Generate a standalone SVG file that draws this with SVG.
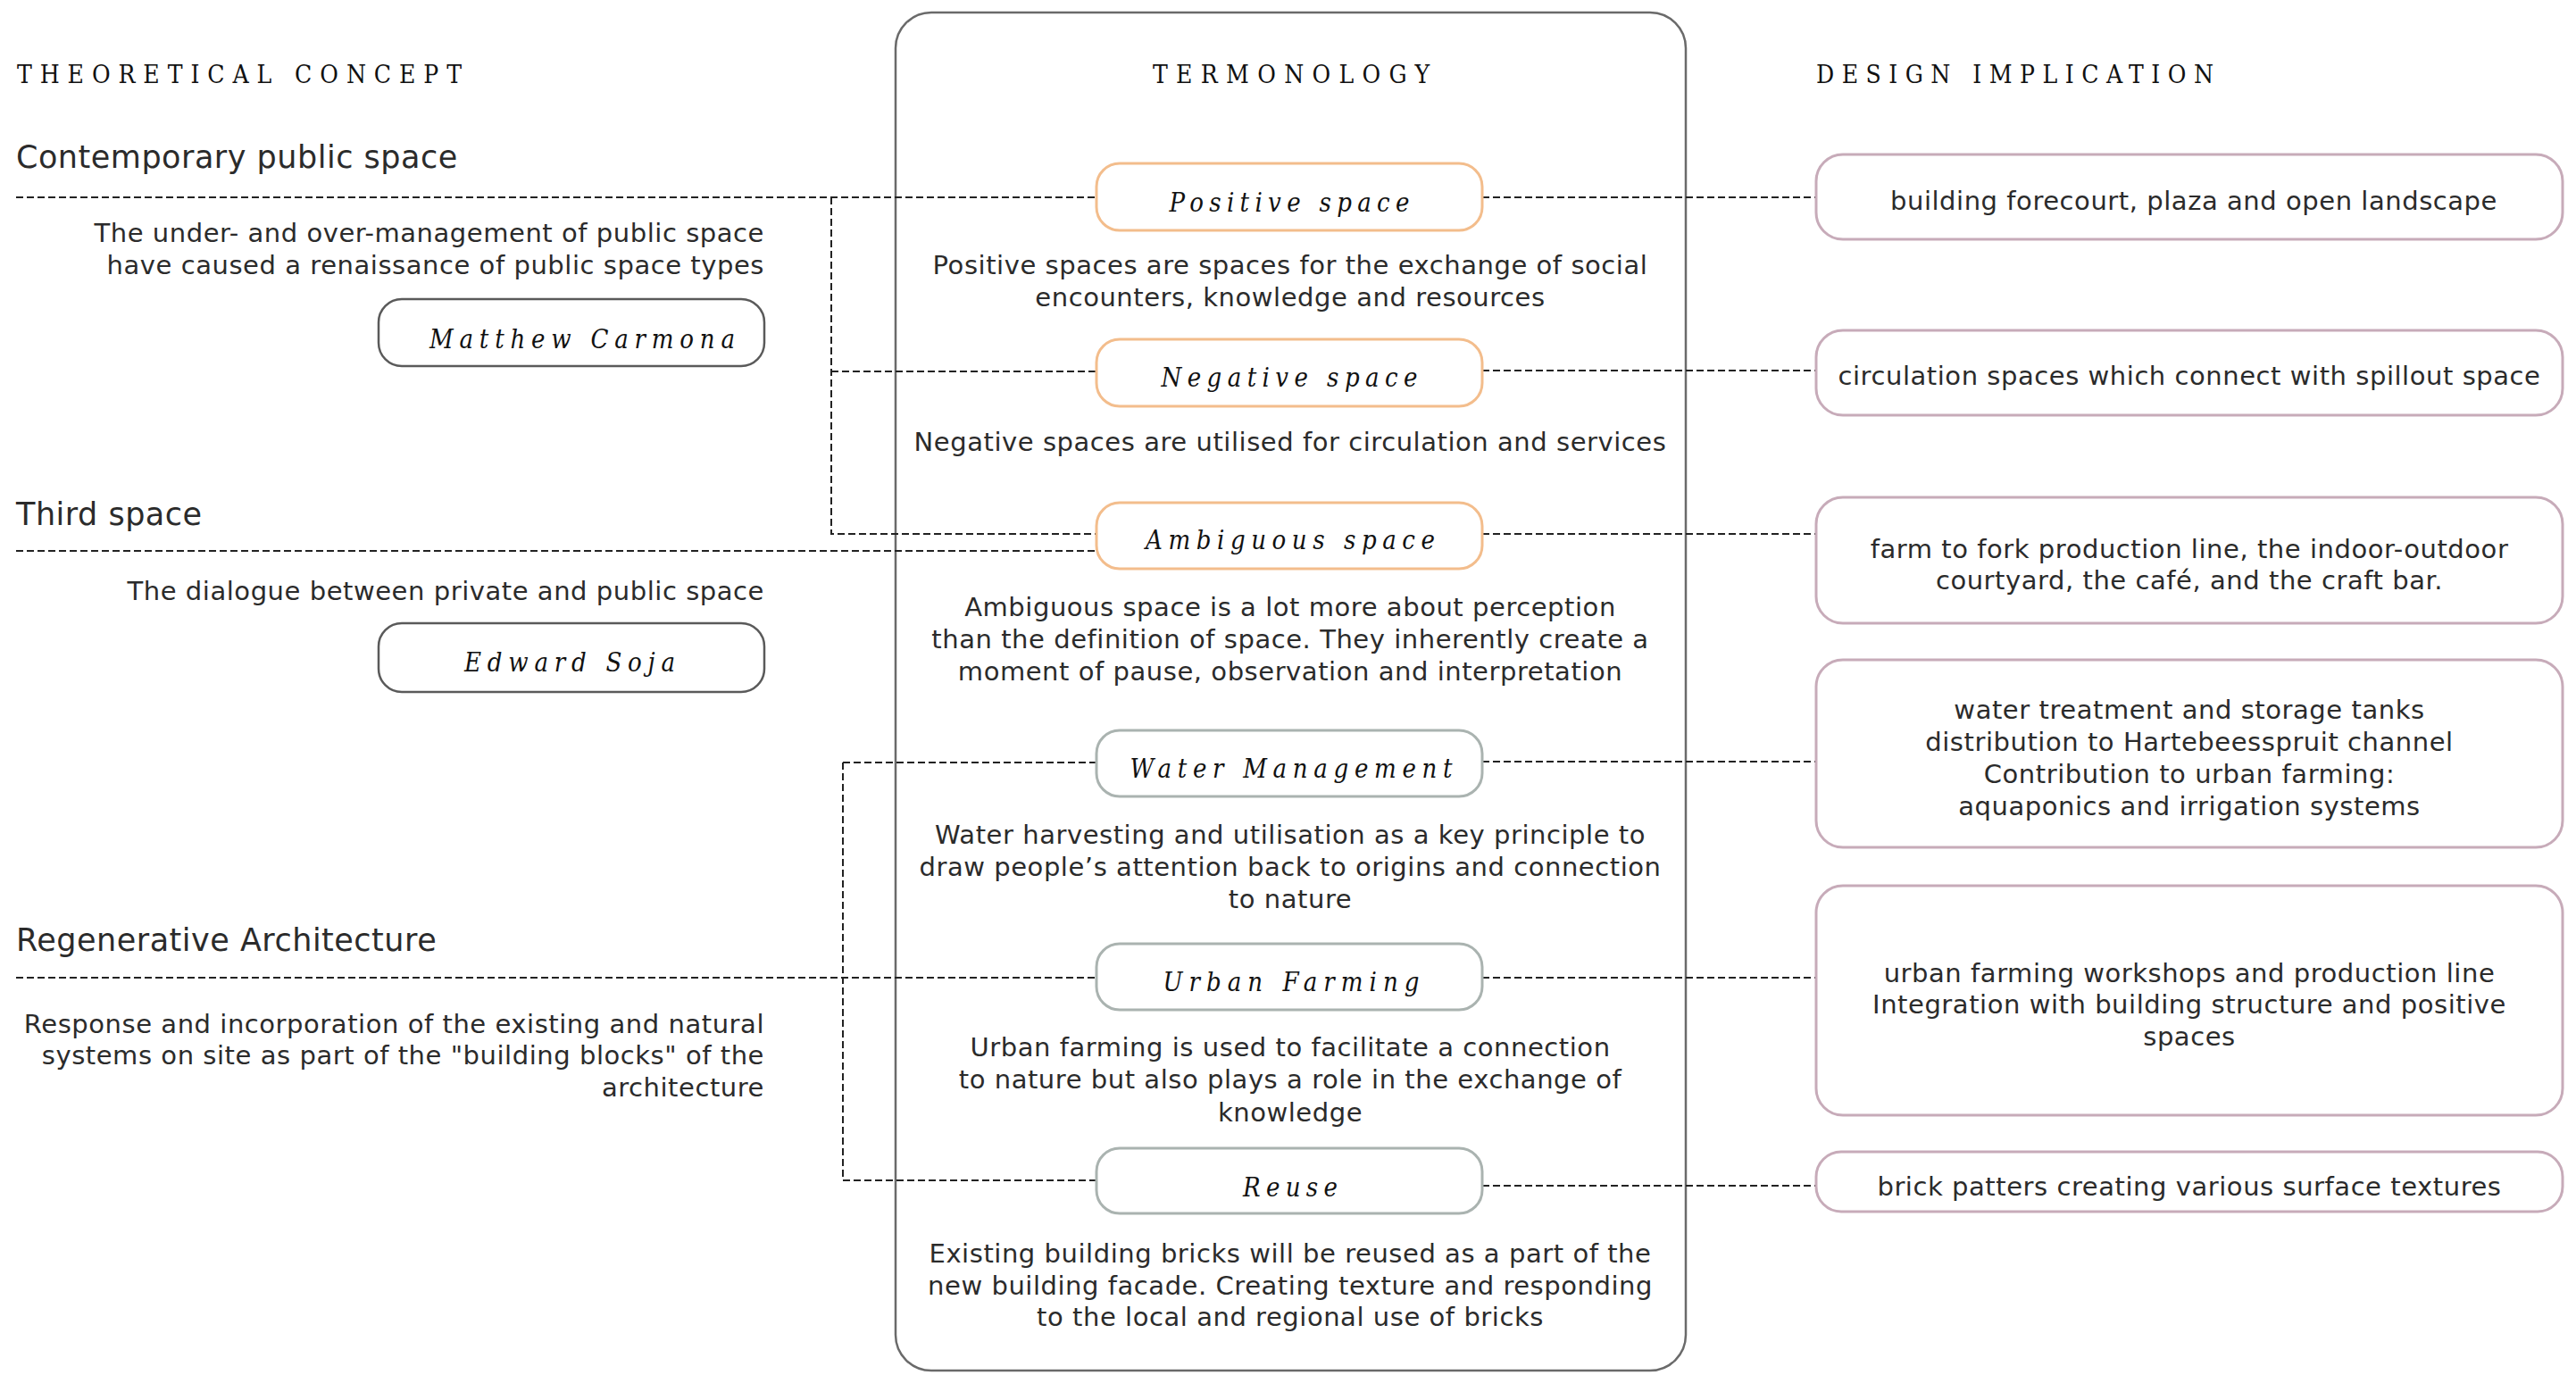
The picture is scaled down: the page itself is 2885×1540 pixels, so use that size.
<svg xmlns="http://www.w3.org/2000/svg" width="2885" height="1540" viewBox="0 0 2885 1540">
  <style>
    .head { font-family: "DejaVu Serif Condensed", "DejaVu Serif", serif; font-size: 28px; fill: #111; }
    .label { font-family: "DejaVu Serif Condensed", "DejaVu Serif", serif; font-style: italic; font-size: 29px; fill: #111; }
    .title { font-family: "DejaVu Sans", "Liberation Sans", sans-serif; font-size: 35px; letter-spacing: 0.5px; fill: #2b2b2b; }
    .body { font-family: "DejaVu Sans", "Liberation Sans", sans-serif; font-size: 29px; letter-spacing: 0.55px; fill: #2b2b2b; }
    .r { text-anchor: end; }
    .c { text-anchor: middle; }
    .frame { fill: none; stroke: #6a6a6a; stroke-width: 2.5; }
    .author { fill: #fff; stroke: #5a5a5a; stroke-width: 2.5; }
    .warm { fill: #fff; stroke: #f3bd8c; stroke-width: 3; }
    .cool { fill: #fff; stroke: #aab3b0; stroke-width: 3; }
    .impl { fill: #fff; stroke: #c7abb9; stroke-width: 3; }
    .dash { fill: none; stroke: #222; stroke-width: 2; stroke-dasharray: 8 4; }
  </style>

  <rect width="2885" height="1540" fill="#fff"/>

  <!-- column headers -->
  <g id="headers">
    <text class="head" x="19" y="93" textLength="498" lengthAdjust="spacing">THEORETICAL CONCEPT</text>
    <text class="head c" x="1446" y="93" textLength="310" lengthAdjust="spacing">TERMONOLOGY</text>
    <text class="head" x="2034" y="93" textLength="445" lengthAdjust="spacing">DESIGN IMPLICATION</text>
  </g>

  <!-- terminology frame -->
  <rect id="terminology-frame" class="frame" x="1003" y="14" width="885" height="1521" rx="40"/>

  <!-- connectors -->
  <g id="connectors">
    <path class="dash" d="M18 221 H1228"/>
    <path class="dash" d="M931 221 V598 H1228"/>
    <path class="dash" d="M931 416 H1228"/>
    <path class="dash" d="M18 617 H1228"/>
    <path class="dash" d="M944 854 V1322 H1228"/>
    <path class="dash" d="M944 854 H1228"/>
    <path class="dash" d="M18 1095 H1228"/>
    <path class="dash" d="M1660 221 H2034"/>
    <path class="dash" d="M1660 415 H2034"/>
    <path class="dash" d="M1660 598 H2034"/>
    <path class="dash" d="M1660 853 H2034"/>
    <path class="dash" d="M1660 1095 H2034"/>
    <path class="dash" d="M1660 1328 H2034"/>
  </g>

  <!-- theoretical concepts -->
  <g id="concept-contemporary">
    <text class="title" x="18" y="188">Contemporary public space</text>
    <text class="body r" x="856" y="271">The under- and over-management of public space<tspan x="856" dy="36">have caused a renaissance of public space types</tspan></text>
  </g>
  <g id="author-carmona">
    <rect class="author" x="424" y="335" width="432" height="75" rx="26"/>
    <text class="label c" x="652" y="390" textLength="342" lengthAdjust="spacing">Matthew Carmona</text>
  </g>
  <g id="concept-third">
    <text class="title" x="18" y="588">Third space</text>
    <text class="body r" x="856" y="672">The dialogue between private and public space</text>
  </g>
  <g id="author-soja">
    <rect class="author" x="424" y="698" width="432" height="77" rx="26"/>
    <text class="label c" x="638" y="752" textLength="236" lengthAdjust="spacing">Edward Soja</text>
  </g>
  <g id="concept-regenerative">
    <text class="title" x="18" y="1065">Regenerative Architecture</text>
    <text class="body r" x="856" y="1157">Response and incorporation of the existing and natural<tspan x="856" dy="35">systems on site as part of the "building blocks" of the</tspan><tspan x="856" dy="36">architecture</tspan></text>
  </g>

  <!-- terminology -->
  <g id="term-positive">
    <rect class="warm" x="1228" y="183" width="432" height="75" rx="26"/>
    <text class="label c" x="1444" y="237" textLength="269" lengthAdjust="spacing">Positive space</text>
    <text class="body c" x="1445" y="307">Positive spaces are spaces for the exchange of social<tspan x="1445" dy="36">encounters, knowledge and resources</tspan></text>
  </g>
  <g id="term-negative">
    <rect class="warm" x="1228" y="380" width="432" height="75" rx="26"/>
    <text class="label c" x="1444" y="433" textLength="287" lengthAdjust="spacing">Negative space</text>
    <text class="body c" x="1445" y="505">Negative spaces are utilised for circulation and services</text>
  </g>
  <g id="term-ambiguous">
    <rect class="warm" x="1228" y="563" width="432" height="74" rx="26"/>
    <text class="label c" x="1445" y="615" textLength="324" lengthAdjust="spacing">Ambiguous space</text>
    <text class="body c" x="1445" y="690">Ambiguous space is a lot more about perception<tspan x="1445" dy="36">than the definition of space. They inherently create a</tspan><tspan x="1445" dy="36">moment of pause, observation and interpretation</tspan></text>
  </g>
  <g id="term-water">
    <rect class="cool" x="1228" y="818" width="432" height="74" rx="26"/>
    <text class="label c" x="1446" y="871" textLength="361" lengthAdjust="spacing">Water Management</text>
    <text class="body c" x="1445" y="945">Water harvesting and utilisation as a key principle to<tspan x="1445" dy="36">draw people’s attention back to origins and connection</tspan><tspan x="1445" dy="36">to nature</tspan></text>
  </g>
  <g id="term-urban">
    <rect class="cool" x="1228" y="1057" width="432" height="74" rx="26"/>
    <text class="label c" x="1446" y="1110" textLength="287" lengthAdjust="spacing">Urban Farming</text>
    <text class="body c" x="1445" y="1183">Urban farming is used to facilitate a connection<tspan x="1445" dy="36">to nature but also plays a role in the exchange of</tspan><tspan x="1445" dy="37">knowledge</tspan></text>
  </g>
  <g id="term-reuse">
    <rect class="cool" x="1228" y="1286" width="432" height="73" rx="26"/>
    <text class="label c" x="1445" y="1340" textLength="106" lengthAdjust="spacing">Reuse</text>
    <text class="body c" x="1445" y="1414">Existing building bricks will be reused as a part of the<tspan x="1445" dy="36">new building facade. Creating texture and responding</tspan><tspan x="1445" dy="35">to the local and regional use of bricks</tspan></text>
  </g>

  <!-- design implications -->
  <g id="impl-forecourt">
    <rect class="impl" x="2034" y="173" width="836" height="95" rx="30"/>
    <text class="body c" x="2457" y="235">building forecourt, plaza and open landscape</text>
  </g>
  <g id="impl-circulation">
    <rect class="impl" x="2034" y="370" width="836" height="95" rx="30"/>
    <text class="body c" x="2452" y="431">circulation spaces which connect with spillout space</text>
  </g>
  <g id="impl-farm-to-fork">
    <rect class="impl" x="2034" y="557" width="836" height="141" rx="30"/>
    <text class="body c" x="2452" y="625">farm to fork production line, the indoor-outdoor<tspan x="2452" dy="35">courtyard, the café, and the craft bar.</tspan></text>
  </g>
  <g id="impl-water">
    <rect class="impl" x="2034" y="739" width="836" height="210" rx="30"/>
    <text class="body c" x="2452" y="805">water treatment and storage tanks<tspan x="2452" dy="36">distribution to Hartebeesspruit channel</tspan><tspan x="2452" dy="36">Contribution to urban farming:</tspan><tspan x="2452" dy="36">aquaponics and irrigation systems</tspan></text>
  </g>
  <g id="impl-urban-farming">
    <rect class="impl" x="2034" y="992" width="836" height="257" rx="30"/>
    <text class="body c" x="2452" y="1100">urban farming workshops and production line<tspan x="2452" dy="35">Integration with building structure and positive</tspan><tspan x="2452" dy="36">spaces</tspan></text>
  </g>
  <g id="impl-bricks">
    <rect class="impl" x="2034" y="1290" width="836" height="67" rx="28"/>
    <text class="body c" x="2452" y="1339">brick patters creating various surface textures</text>
  </g>
</svg>
